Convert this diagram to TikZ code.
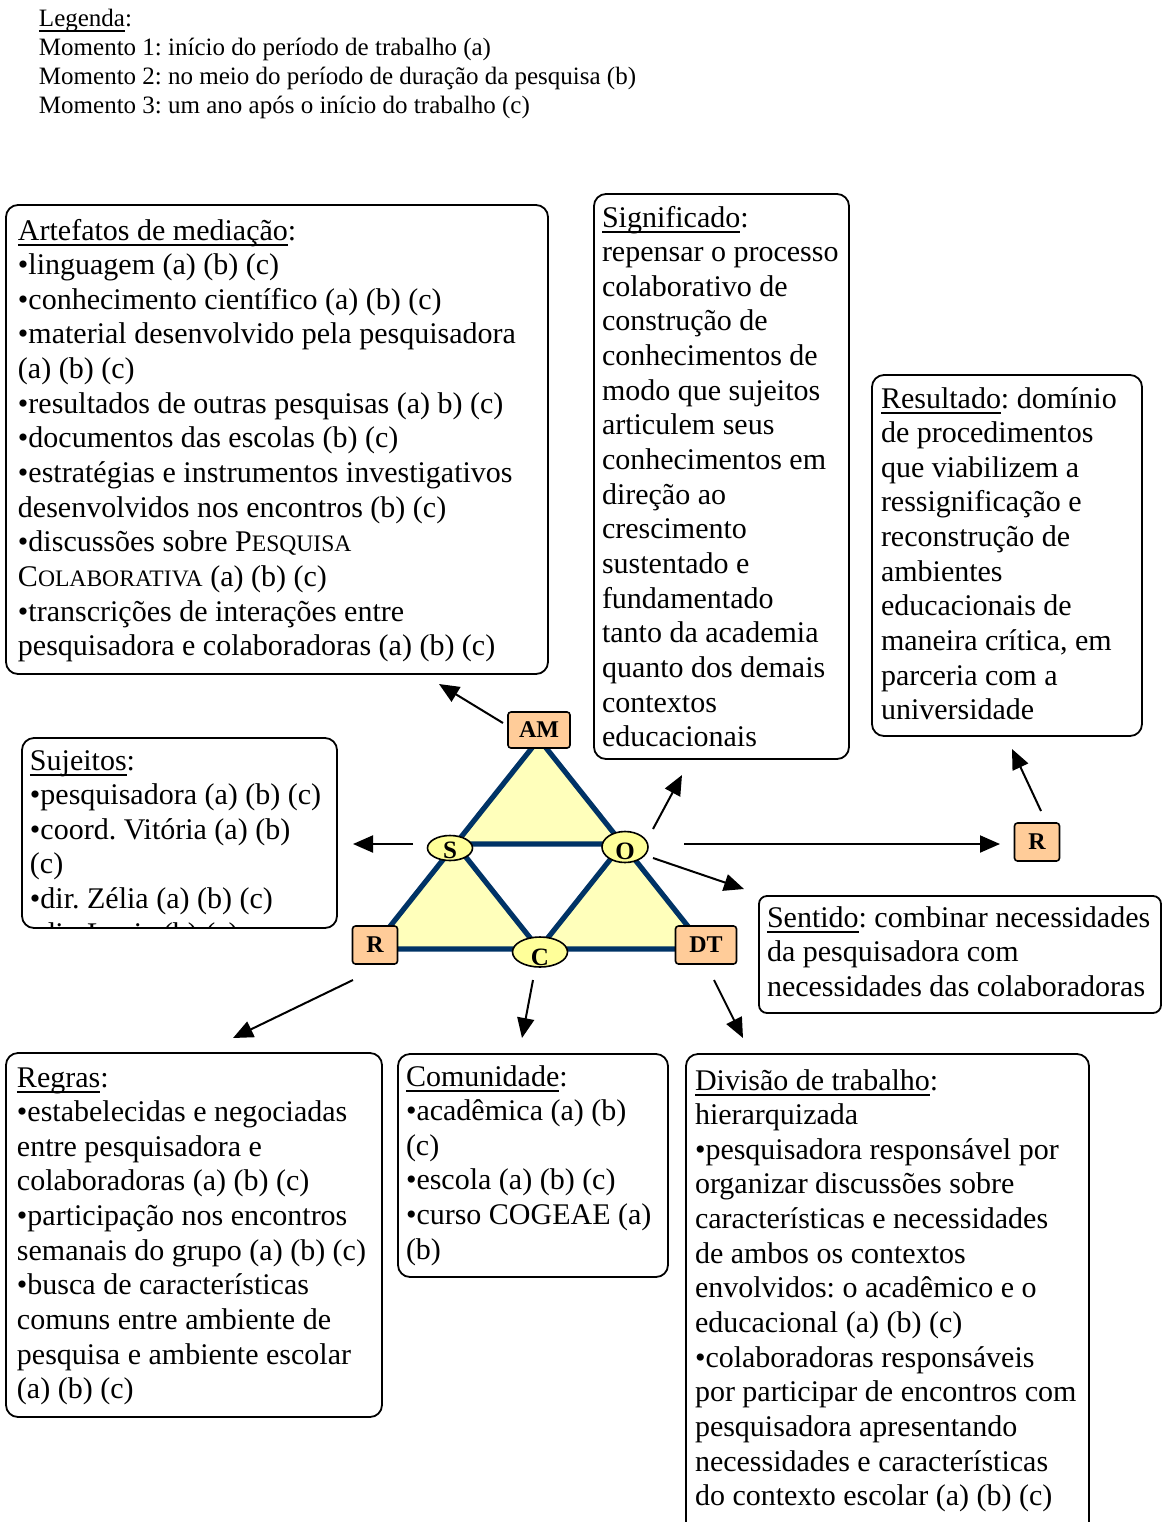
\documentclass[tikz,border=0pt]{standalone}
\usepackage{fontspec}
\setmainfont{Liberation Serif}
\usetikzlibrary{arrows.meta,shapes.geometric}
\definecolor{peach}{HTML}{FFCC99}
\definecolor{ellyel}{HTML}{FFFF99}
\definecolor{trifill}{HTML}{FFFFBB}
\definecolor{navyline}{HTML}{003366}
\newcommand\ulx[1]{\sbox0{#1}\rlap{\rule[-2.9pt]{\wd0}{0.75pt}}\usebox0}
\newcommand\fsc[2]{#1{\fontsize{11.8pt}{11.8pt}\selectfont #2}}
\frenchspacing
\begin{document}
\begin{tikzpicture}[x=0.5pt,y=-0.5pt,
  txt/.style={anchor=base west, inner sep=0pt, outer sep=0pt, font=\fontsize{15pt}{17.33pt}\selectfont},
  legtxt/.style={anchor=base west, inner sep=0pt, outer sep=0pt, font=\fontsize{12.5pt}{14.5pt}\selectfont},
  box/.style={draw, line width=0.9pt, rounded corners=6pt, inner sep=0pt, outer sep=0pt},
  tag/.style={draw, line width=0.8pt, fill=peach, rounded corners=1.5pt, inner sep=0pt, font=\fontsize{12pt}{12pt}\selectfont\bfseries},
  elli/.style={ellipse, draw, line width=0.8pt, fill=ellyel, inner sep=0pt},
  ellitxt/.style={anchor=base, inner sep=0pt, font=\fontsize{12.5pt}{12.5pt}\selectfont\bfseries},
  arr/.style={-{Triangle[length=10pt,width=8.5pt]}, line width=1pt},
  triline/.style={navyline, line width=2.6pt, line join=round}]
\useasboundingbox (0,0) rectangle (1162,1522);

% legend
\node[legtxt] (leg) at (39,26) {\begin{tabular}[t]{@{}l@{}}
\ulx{Legenda}:\\
Momento 1: início do período de trabalho (a)\\
Momento 2: no meio do período de duração da pesquisa (b)\\
Momento 3: um ano após o início do trabalho (c)
\end{tabular}};

% triangle
\coordinate (vA) at (539,739);
\coordinate (vL) at (372,949);
\coordinate (vR) at (706,949);
\coordinate (mS) at (455.5,844);
\coordinate (mO) at (622.5,844);
\coordinate (mC) at (539,949);
\fill[trifill] (vA) -- (mS) -- (mO) -- cycle;
\fill[trifill] (mS) -- (vL) -- (mC) -- cycle;
\fill[trifill] (mO) -- (mC) -- (vR) -- cycle;
\draw[triline] (vA) -- (vL) -- (vR) -- cycle;
\draw[triline] (mS) -- (mO) -- (mC) -- cycle;

% tags
\node[tag, minimum width=31pt, minimum height=18pt] (AM) at (539,730) {AM};
\node[tag, minimum width=22.5pt, minimum height=19pt] (Rl) at (375,945) {R};
\node[tag, minimum width=30.5pt, minimum height=19pt] (DT) at (706,945) {DT};
\node[tag, minimum width=22.5pt, minimum height=19pt] (Rr) at (1037,842) {R};

% ellipses
\node[elli, minimum width=22.5pt, minimum height=12.5pt,
  path picture={\node[ellitxt] at ([yshift=-5pt]path picture bounding box.center) {S};}] (S) at (450,848) {};
\node[elli, minimum width=23pt, minimum height=15.5pt,
  path picture={\node[ellitxt] at ([yshift=-6pt]path picture bounding box.center) {O};}] (O) at (625,847) {};
\node[elli, minimum width=27.5pt, minimum height=15pt,
  path picture={\node[ellitxt] at ([yshift=-6.5pt]path picture bounding box.center) {C};}] (C) at (540,952) {};

% boxes
\node[box, minimum width=271pt, minimum height=234.5pt] (art) at (277,439.5) {};
\node[box, minimum width=127.5pt, minimum height=282.5pt] (sig) at (721.5,476.5) {};
\node[box, minimum width=135pt, minimum height=180.5pt] (res) at (1007,555.5) {};
\node[box, minimum width=157.5pt, minimum height=95pt] (suj) at (179.5,833) {};
\node[box, rounded corners=4pt, minimum width=201pt, minimum height=58.5pt] (sen) at (960,954.5) {};
\node[box, minimum width=188pt, minimum height=182pt] (reg) at (194,1235) {};
\node[box, minimum width=135pt, minimum height=111.5pt] (com) at (533,1165.5) {};
\node[box, minimum width=201.5pt, minimum height=243pt] (div) at (887.5,1297) {};

% texts
\node[txt] (artT) at (18,240) {\begin{tabular}[t]{@{}l@{}}
\ulx{Artefatos de mediação}:\\
•linguagem (a) (b) (c)\\
•conhecimento científico (a) (b) (c)\\
•material desenvolvido pela pesquisadora\\
(a) (b) (c)\\
•resultados de outras pesquisas (a) b) (c)\\
•documentos das escolas (b) (c)\\
•estratégias e instrumentos investigativos\\
desenvolvidos nos encontros (b) (c)\\
•discussões sobre \fsc{P}{ESQUISA}\\
\fsc{C}{OLABORATIVA} (a) (b) (c)\\
•transcrições de interações entre\\
pesquisadora e colaboradoras (a) (b) (c)
\end{tabular}};

\node[txt] (sigT) at (602,227) {\begin{tabular}[t]{@{}l@{}}
\ulx{Significado}:\\
repensar o processo\\
colaborativo de\\
construção de\\
conhecimentos de\\
modo que sujeitos\\
articulem seus\\
conhecimentos em\\
direção ao\\
crescimento\\
sustentado e\\
fundamentado\\
tanto da academia\\
quanto dos demais\\
contextos\\
educacionais
\end{tabular}};

\node[txt] (resT) at (881,408) {\begin{tabular}[t]{@{}l@{}}
\ulx{Resultado}: domínio\\
de procedimentos\\
que viabilizem a\\
ressignificação e\\
reconstrução de\\
ambientes\\
educacionais de\\
maneira crítica, em\\
parceria com a\\
universidade
\end{tabular}};

\begin{scope}
\clip ([shift={(0.5pt,0.6pt)}]suj.south west) rectangle ([shift={(-0.5pt,-0.5pt)}]suj.north east);
\node[txt] (sujT) at (30,770) {\begin{tabular}[t]{@{}l@{}}
\ulx{Sujeitos}:\\
•pesquisadora (a) (b) (c)\\
•coord. Vitória (a) (b)\\
(c)\\
•dir. Zélia (a) (b) (c)\\
•dir. Lucia (b) (c)
\end{tabular}};
\end{scope}

\node[txt] (senT) at (767,927) {\begin{tabular}[t]{@{}l@{}}
\ulx{Sentido}: combinar necessidades\\
da pesquisadora com\\
necessidades das colaboradoras
\end{tabular}};

\node[txt] (regT) at (17,1087) {\begin{tabular}[t]{@{}l@{}}
\ulx{Regras}:\\
•estabelecidas e negociadas\\
entre pesquisadora e\\
colaboradoras (a) (b) (c)\\
•participação nos encontros\\
semanais do grupo (a) (b) (c)\\
•busca de características\\
comuns entre ambiente de\\
pesquisa e ambiente escolar\\
(a) (b) (c)
\end{tabular}};

\node[txt] (comT) at (406,1086) {\begin{tabular}[t]{@{}l@{}}
\ulx{Comunidade}:\\
•acadêmica (a) (b)\\
(c)\\
•escola (a) (b) (c)\\
•curso COGEAE (a)\\
(b)
\end{tabular}};

\node[txt] (divT) at (695,1090) {\begin{tabular}[t]{@{}l@{}}
\ulx{Divisão de trabalho}:\\
hierarquizada\\
•pesquisadora responsável por\\
organizar discussões sobre\\
características e necessidades\\
de ambos os contextos\\
envolvidos: o acadêmico e o\\
educacional (a) (b) (c)\\
•colaboradoras responsáveis\\
por participar de encontros com\\
pesquisadora apresentando\\
necessidades e características\\
do contexto escolar (a) (b) (c)
\end{tabular}};

% arrows
\coordinate (a1s) at (503,723); \coordinate (a1e) at (439,684);
\coordinate (a2s) at (413,844); \coordinate (a2e) at (353,844);
\coordinate (a3s) at (653,829); \coordinate (a3e) at (682,775);
\coordinate (a4s) at (684,844); \coordinate (a4e) at (1000,844);
\coordinate (a5s) at (653,858); \coordinate (a5e) at (744,889);
\coordinate (a6s) at (1041,811); \coordinate (a6e) at (1012,749);
\coordinate (a7s) at (353,980); \coordinate (a7e) at (233,1038);
\coordinate (a8s) at (533,980); \coordinate (a8e) at (522,1038);
\coordinate (a9s) at (714,980); \coordinate (a9e) at (743,1038);
\draw[arr] (a1s) -- (a1e);
\draw[arr] (a2s) -- (a2e);
\draw[arr] (a3s) -- (a3e);
\draw[arr] (a4s) -- (a4e);
\draw[arr] (a5s) -- (a5e);
\draw[arr] (a6s) -- (a6e);
\draw[arr] (a7s) -- (a7e);
\draw[arr] (a8s) -- (a8e);
\draw[arr] (a9s) -- (a9e);
\end{tikzpicture}
\end{document}
